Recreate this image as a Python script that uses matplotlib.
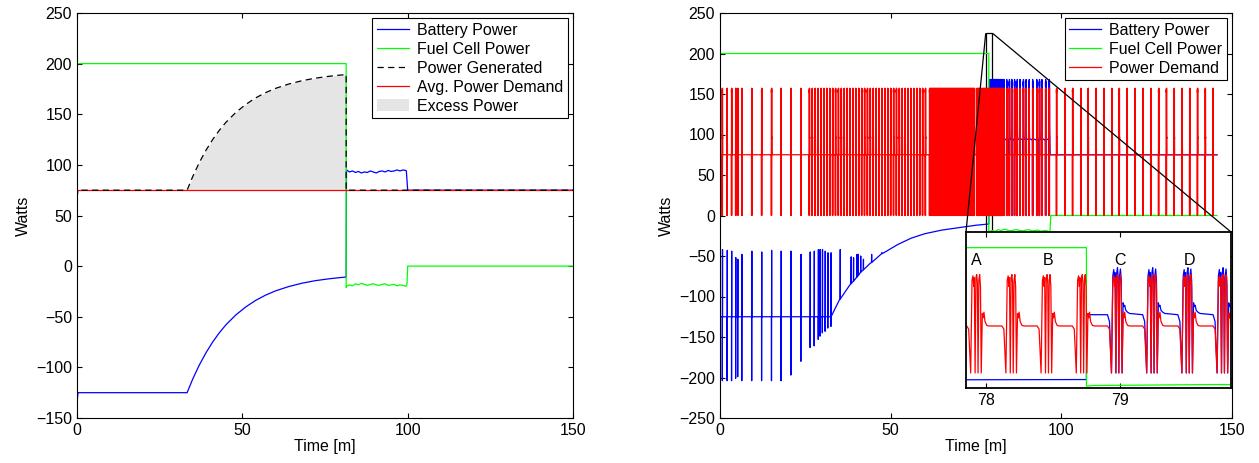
import numpy as np
import matplotlib
matplotlib.use("Agg")
import matplotlib.pyplot as plt
from mpl_toolkits.axes_grid1.inset_locator import mark_inset

plt.rcParams['font.family'] = ['Liberation Sans', 'DejaVu Sans']
plt.rcParams['font.size'] = 11.5
plt.rcParams['xtick.direction'] = 'in'
plt.rcParams['ytick.direction'] = 'in'
plt.rcParams['xtick.top'] = True
plt.rcParams['ytick.right'] = True
plt.rcParams['xtick.major.size'] = 3.5
plt.rcParams['ytick.major.size'] = 3.5

# ---------------- left panel data ----------------
gen_t = [0, 0.3, 33.3, 35, 37, 39, 41, 43, 45, 48, 51, 54, 57, 60, 64, 68, 72, 76, 79, 81.4, 81.4, 150]
gen_w = [68, 75, 75, 88.5, 102.4, 114.4, 124.9, 134, 141.9, 151.7, 159.6, 166.1, 171.3, 175.5,
         179.8, 183.1, 185.6, 187.4, 188.5, 189.2, 75, 75]

bat_t = [0, 0.3, 33.3, 35, 37, 39, 41, 43, 45, 48, 51, 54, 57, 60, 64, 68, 72, 76, 79, 81.4]
bat_w = [-135, -125, -125, -111.5, -97.6, -85.6, -75.1, -66, -58.1, -48.3, -40.4, -33.9, -28.7,
         -24.5, -20.2, -16.9, -14.4, -12.6, -11.5, -10.8]

mid_t_left = [81.5, 82.4, 83.3, 84.2, 85.1, 86.0, 86.9, 87.8, 88.7, 89.6, 90.5, 91.4, 92.3,
              93.2, 94.1, 95.0, 95.9, 96.8, 97.7, 98.6, 99.4]
bat_mid = [95, 93, 94, 92.5, 93.5, 92, 93, 92.5, 94, 93, 92, 93.5, 94, 93, 94.5, 93.5, 94,
           95, 94, 95, 94.5]
fc_mid = [-20, -18.5, -19.5, -17.5, -18.5, -17, -18, -19, -18, -17.5, -18.5, -19, -18,
          -17.5, -19, -18.5, -18, -19.5, -18.5, -19, -20]

# ---------------- right panel data ----------------
r_end = 145.6
r_drop = 78.75
r_off = 96.7

red_sparse_t = [0.7, 2.1, 3.4, 4.6, 5.2, 6.4, 9.3, 12.2, 15.1, 17.9, 20.8, 23.7]
# drive-cycle blocks: (start, stop, pulse period) in minutes
dense_blocks = [(26.2, 61.0, 0.85), (61.4, 74.7, 0.263), (75.30, 82.8, 0.263)]
red_mid_t = [83.2, 84.0, 84.8, 85.5, 86.3, 87.1, 87.9, 88.9, 89.7, 90.6, 91.6, 92.8, 93.6,
             94.3, 95.4, 96.5]
red_late_t = [98.6, 101.1, 103.3, 105.7, 107.9, 110.2, 112.5, 114.8, 117.0, 119.3, 121.6,
              123.9, 126.2, 128.5, 130.8, 133.1, 135.4, 137.6, 139.9, 142.2, 144.4]

# one pulse of the demand (offset in minutes, watts), read from the zoomed view
tpl_off = [-0.075, -0.06, -0.045, -0.035, -0.028, -0.022, -0.018, -0.012, -0.006, 0.0, 0.005,
           0.01, 0.016, 0.022, 0.028, 0.034, 0.042, 0.048, 0.054, 0.062, 0.075, 0.09]
red_tpl = [75, 70, 0, 148, 155, 138, 152, 0, 152, 157, 143, 0, 148, 157, 138, 0, 95, 88, 97,
           82, 76, 75]
blue_tpl = [93, 82, 0, 155, 165, 148, 160, 0, 160, 168, 152, 0, 156, 166, 148, 0, 112, 106,
            108, 100, 97, 95]

# battery slow curve in right panel
bcurve_t = [0, 32, 35, 38, 41, 44, 48, 52, 56, 60, 65, 70, 75, r_drop]
bcurve_w = [-125, -125, -104, -86, -71, -59, -46, -36, -28, -22.5, -18, -15, -12, -10.5]

# battery spikes (time, base, low, top)
bsp_t = [0.7, 2.1, 3.4, 4.6, 5.2, 6.4, 9.3, 12.2, 15.1, 17.9, 20.8, 23.7, 26.4, 27.6, 28.8,
         29.3, 30.0, 30.8, 31.6, 32.5, 35.2, 38.4, 39.1, 40.1, 40.5, 41.2, 42.0, 44.4, 47.4]
bsp_base = [-125] * 20 + [-103, -84, -81, -76, -74, -70, -67, -58, -47]
bsp_low = [-204, -204, -204, -201, -199, -204, -204, -204, -204, -204, -197, -180, -163, -161,
           -153, -149, -145, -143, -139, -137, -103, -84, -81, -76, -74, -70, -67, -58, -47]
bsp_top = [-42, -43, -44, -52, -54, -48, -44, -45, -43, -44, -44, -48, -45, -44, -42, -42, -42,
           -44, -46, -46, -42, -51, -52, -48, -48, -50, -54, -48, -46]

mid_t_right = [78.8, 79.7, 80.6, 81.5, 82.4, 83.3, 84.2, 85.1, 86.0, 86.9, 87.8, 88.7, 89.6,
               90.5, 91.4, 92.3, 93.2, 94.1, 95.0, 95.9, 96.6]

inset_labels = ['A', 'B', 'C', 'D']
inset_label_t = [77.93, 78.46, 79.0, 79.52]


def train(times, off, tpl, t0, t1, base):
    xs, ys = [t0], [base]
    for t in times:
        xs.extend(t + np.asarray(off))
        ys.extend(tpl)
    xs.append(t1)
    ys.append(base)
    return xs, ys


all_red_t = list(red_sparse_t)
for a, b, p in dense_blocks:
    all_red_t += list(np.arange(a, b, p))
all_red_t += red_mid_t + red_late_t
all_red_t = sorted(all_red_t)

red_x, red_y = train(all_red_t, tpl_off, red_tpl, 0, r_end, 75)

# battery before the fuel cell drops out
pts = list(zip(bcurve_t, bcurve_w))
for t, b, lo, hi in zip(bsp_t, bsp_base, bsp_low, bsp_top):
    pts += [(t - 0.03, b), (t - 0.015, lo), (t, hi), (t + 0.015, lo), (t + 0.03, hi), (t + 0.045, b)]
pts.sort()
bx = [p[0] for p in pts]
by = [p[1] for p in pts]
# battery after the drop
after_t = [t for t in all_red_t if r_drop + 0.08 < t < r_off]
ax_, ay_ = train(after_t, tpl_off, blue_tpl, r_drop, r_off - 0.1, 93)
bx += ax_ + [r_off, r_end]
by += ay_ + [75, 75]

gx = [0, r_drop, r_drop] + mid_t_right + [r_off, r_off + 0.2, r_end]
gy = [200, 200, -21] + fc_mid + [-18, 0, 0]

# ---------------- figure ----------------
fig = plt.figure(figsize=(12.59, 4.63), dpi=100)
ax1 = fig.add_axes([77 / 1259, 45 / 463, 496 / 1259, 405 / 463])
ax2 = fig.add_axes([720 / 1259, 45 / 463, 512 / 1259, 405 / 463])

lw = 0.9
fill = ax1.fill_between(gen_t, 75, gen_w, color='#e5e5e5', lw=0, label='Excess Power')
l1, = ax1.plot(bat_t + mid_t_left + [99.6, 100.0, 150], bat_w + bat_mid + [94, 75, 75],
               color='b', lw=lw, label='Battery Power')
l2, = ax1.plot([0, 81.4, 81.4] + mid_t_left + [99.8, 100.0, 150],
               [200, 200, -21] + fc_mid + [-18, 0, 0], color='#00ff00', lw=lw, label='Fuel Cell Power')
l4, = ax1.plot([0, 150], [75, 75], color='r', lw=lw, label='Avg. Power Demand')
l3, = ax1.plot(gen_t, gen_w, color='k', lw=lw, dashes=[5, 3.5], label='Power Generated')
ax1.set_xlim(0, 150)
ax1.set_ylim(-150, 250)
ax1.set_xticks([0, 50, 100, 150])
ax1.set_yticks(np.arange(-150, 251, 50))
ax1.set_xlabel('Time [m]', labelpad=1)
ax1.set_ylabel('Watts')
leg = ax1.legend([l1, l2, l3, l4, fill],
                 ['Battery Power', 'Fuel Cell Power', 'Power Generated', 'Avg. Power Demand', 'Excess Power'],
                 loc='upper right', fancybox=False, edgecolor='k', framealpha=1,
                 borderaxespad=0.3, handlelength=2.0, handletextpad=0.5,
                 labelspacing=0.25, borderpad=0.3)
leg.get_frame().set_linewidth(0.8)

ax2.plot(bx, by, color='b', lw=lw, label='Battery Power')
ax2.plot(gx, gy, color='#00ff00', lw=lw, label='Fuel Cell Power')
ax2.plot(red_x, red_y, color='r', lw=lw, label='Power Demand')
ax2.set_xlim(0, 150)
ax2.set_ylim(-250, 250)
ax2.set_xticks([0, 50, 100, 150])
ax2.set_yticks(np.arange(-250, 251, 50))
ax2.set_xlabel('Time [m]', labelpad=1)
ax2.set_ylabel('Watts')
leg2 = ax2.legend(loc='upper right', fancybox=False, edgecolor='k', framealpha=1,
                  borderaxespad=0.3, handlelength=2.0, handletextpad=0.5,
                  labelspacing=0.25, borderpad=0.3)
leg2.get_frame().set_linewidth(0.8)

axins = fig.add_axes([966 / 1259, 75 / 463, 265 / 1259, 156 / 463])
axins.plot(bx, by, color='b', lw=lw)
axins.plot(gx, gy, color='#00ff00', lw=lw)
axins.plot(red_x, red_y, color='r', lw=lw)
axins.set_xlim(77.85, 79.83)
axins.set_ylim(-24, 225)
axins.set_xticks([78, 79])
axins.set_yticks([])
for s in axins.spines.values():
    s.set_linewidth(1.3)
for lab, t in zip(inset_labels, inset_label_t):
    axins.text(t, 180, lab, ha='center', va='center')
mark_inset(ax2, axins, loc1=1, loc2=2, fc='none', ec='k', lw=0.9)

fig.savefig('out.png', dpi=100)
